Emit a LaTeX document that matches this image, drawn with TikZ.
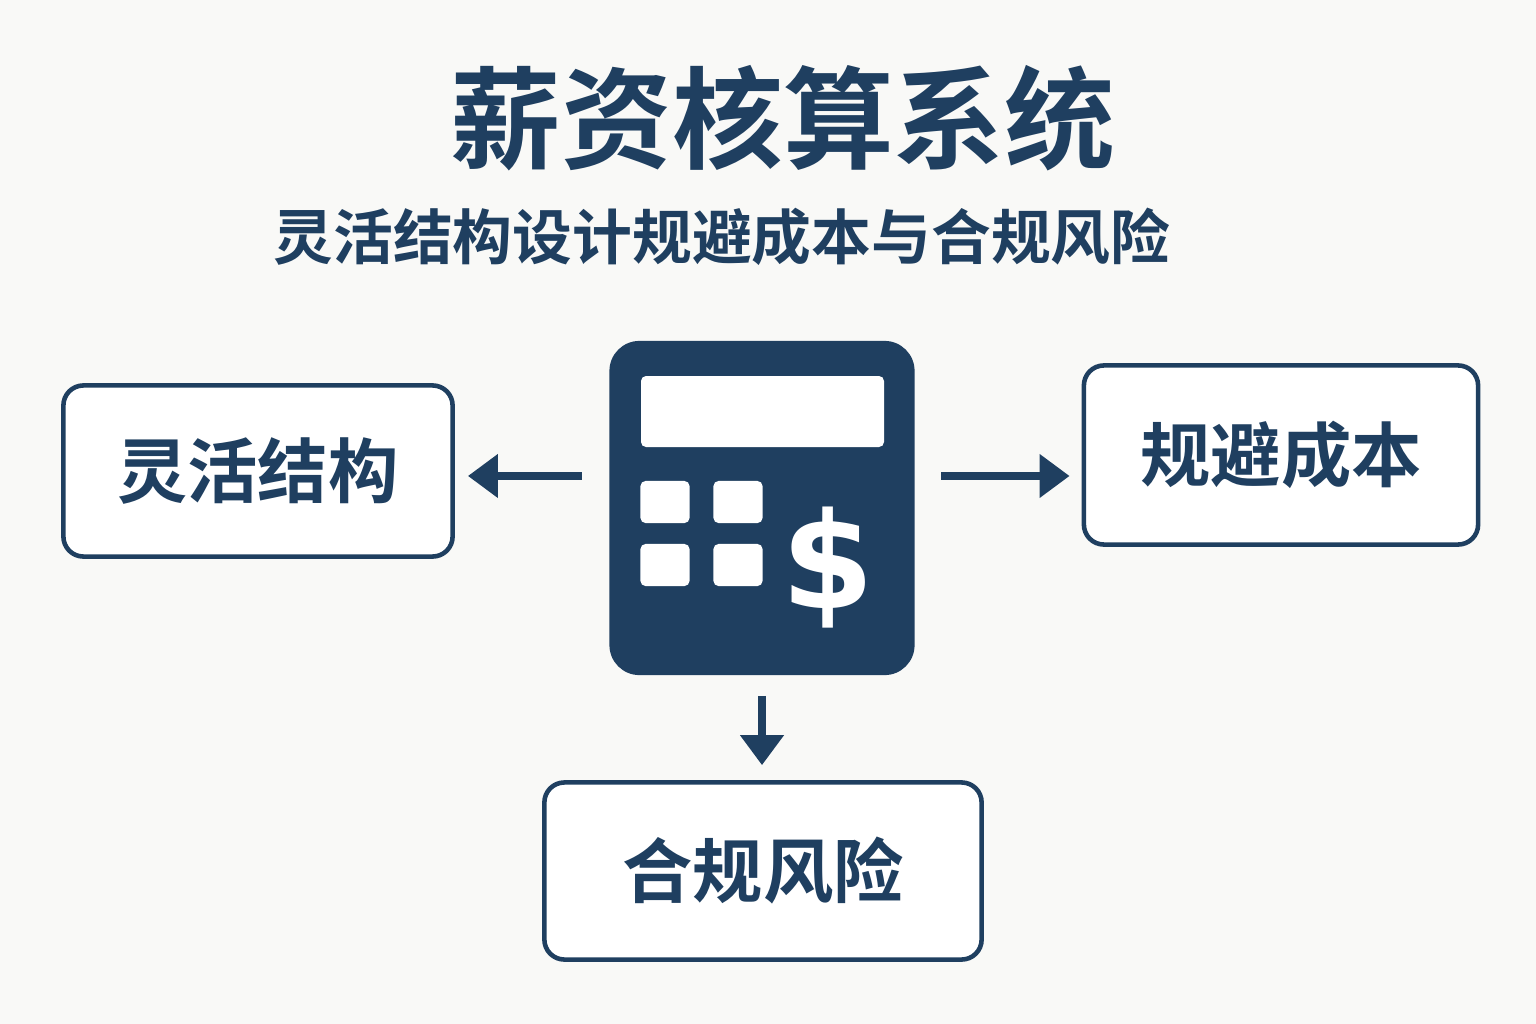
\documentclass[tikz,border=0pt]{standalone}
\usepackage{fontspec}
\newfontfamily\cjk{Noto Sans CJK SC}
\newfontfamily\cjkb{Noto Sans CJK SC Bold}
\newfontfamily\dollarfont{DejaVu Sans Bold}
\usetikzlibrary{arrows.meta, positioning}
\definecolor{navy}{HTML}{1F3F60}
\definecolor{paper}{HTML}{F9F9F7}
\begin{document}
\begin{tikzpicture}[
    x=0.01cm, y=-0.01cm,
    box/.style={draw=navy, line width=1.3pt, fill=white, rounded corners=0.2cm, text=navy, font=\cjkb\fontsize{20}{24}\selectfont},
    key/.style={fill=white, rounded corners=0.05cm, minimum width=0.49cm, minimum height=0.42cm, inner sep=0pt},
    arrow/.style={-{Triangle[length=0.3cm, width=0.42cm]}, line width=2.3pt, navy}
]
    \fill[paper] (0,0) rectangle (1536,1024);
    \useasboundingbox (0,0) rectangle (1536,1024);

    % titles
    \node[text=navy, font=\cjkb\fontsize{31.5}{36}\selectfont] (title) at (783,118) {薪资核算系统};
    \node[text=navy, font=\cjkb\fontsize{17}{20}\selectfont] (sub) at (722,237) {灵活结构设计规避成本与合规风险};

    % calculator
    \node[fill=navy, rounded corners=0.3cm, minimum width=3.05cm, minimum height=3.34cm, inner sep=0pt] (calc) at (762,508) {};
    \fill[white, rounded corners=0.05cm] (641,376) rectangle (884,447);
    \node[key] (k1) at (665,502) {};
    \node[key] (k2) at (738,502) {};
    \node[key] (k3) at (665,565) {};
    \node[key] (k4) at (738,565) {};
    \node[text=white, font=\dollarfont\fontsize{38}{44}\selectfont] (dollar) at (828,568) {\$};

    % boxes
    \node[box, minimum width=3.89cm, minimum height=1.71cm] (flex) at (258,471) {灵活结构};
    \node[box, minimum width=3.94cm, minimum height=1.79cm] (cost) at (1281,455) {规避成本};
    \node[box, minimum width=4.37cm, minimum height=1.77cm] (risk) at (763,871) {合规风险};

    % arrows
    \draw[arrow, shorten <=0.27cm, shorten >=0.13cm] ([yshift=0.32cm]calc.west) -- ([yshift=0.32cm]calc.west -| flex.east);
    \draw[arrow, shorten <=0.26cm, shorten >=0.12cm] ([yshift=0.32cm]calc.east) -- ([yshift=0.32cm]calc.east -| cost.west);
    \draw[arrow, shorten <=0.2cm, shorten >=0.15cm] (calc.south) -- (calc.south |- risk.north);

\end{tikzpicture}
\end{document}
